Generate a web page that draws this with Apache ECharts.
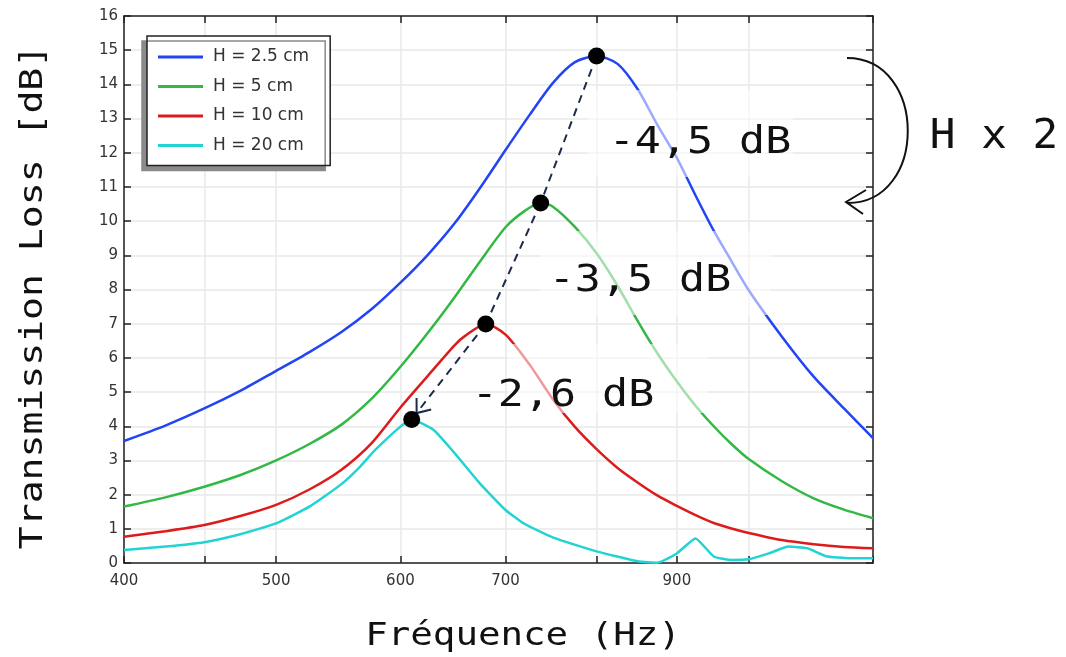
<!DOCTYPE html>
<html>
<head>
<meta charset="utf-8">
<title>Transmission Loss</title>
<script src="https://cdn.jsdelivr.net/npm/echarts@6/dist/echarts.min.js"></script>
<style>
  html, body { margin: 0; padding: 0; background: #fff; }
  #chart { width: 1066px; height: 657px; }
</style>
</head>
<body>
<div id="chart"></div>
<script>
// frequences (Hz) et pertes (dB)
const freqH25 = [400, 425, 450, 475, 500, 525, 550, 575, 600, 625, 650, 675, 700, 725, 750, 775, 800, 825, 850, 875, 900, 925, 950, 975, 1000, 1050, 1100, 1150, 1200]
const tlH25 = [3.57, 4.02, 4.52, 5.05, 5.62, 6.17, 6.75, 7.42, 8.2, 9.03, 9.95, 11.0, 12.08, 13.1, 14.03, 14.65, 14.83, 14.6, 13.85, 12.8, 11.85, 10.75, 9.72, 8.83, 7.98, 6.62, 5.45, 4.52, 3.65]

const freqH5 = [400, 425, 450, 475, 500, 525, 550, 575, 600, 625, 650, 675, 700, 720, 737, 750, 775, 800, 825, 850, 875, 900, 925, 950, 975, 1000, 1050, 1100, 1150, 1200]
const tlH5 = [1.65, 1.92, 2.23, 2.58, 3.0, 3.48, 4.04, 4.8, 5.74, 6.75, 7.79, 8.85, 9.82, 10.3, 10.53, 10.43, 9.83, 9.06, 8.11, 7.07, 6.12, 5.31, 4.6, 4.0, 3.48, 3.04, 2.39, 1.89, 1.56, 1.31]

const freqH10 = [400, 425, 450, 475, 500, 525, 550, 575, 600, 625, 650, 660, 680, 700, 725, 750, 775, 800, 825, 850, 875, 900, 925, 950, 975, 1000, 1050, 1100, 1150, 1200]
const tlH10 = [0.77, 0.93, 1.11, 1.38, 1.7, 2.15, 2.72, 3.5, 4.55, 5.49, 6.38, 6.65, 6.99, 6.68, 5.81, 4.8, 3.98, 3.33, 2.78, 2.35, 1.97, 1.67, 1.4, 1.17, 1.01, 0.88, 0.67, 0.55, 0.47, 0.43]

const freqH20 = [400, 425, 450, 475, 500, 525, 550, 565, 578, 600, 610, 630, 650, 675, 700, 720, 750, 800, 850, 875, 900, 925, 950, 975, 1000, 1030, 1060, 1090, 1120, 1160, 1200]
const tlH20 = [0.38, 0.48, 0.61, 0.85, 1.16, 1.65, 2.3, 2.8, 3.3, 3.99, 4.2, 3.89, 3.2, 2.3, 1.55, 1.14, 0.75, 0.34, 0.05, 0.01, 0.28, 0.72, 0.19, 0.09, 0.11, 0.28, 0.48, 0.43, 0.2, 0.14, 0.14]

// maxima relies par la fleche
const peakFreq = [800, 737, 680, 610]
const peakTL = [14.83, 10.53, 6.99, 4.2]

const seriesNames = ['H = 2.5 cm', 'H = 5 cm', 'H = 10 cm', 'H = 20 cm']
const seriesColors = ['#2244f5', '#33b845', '#dc1c1c', '#22d3d3']
const tickFreqs = [400, 450, 500, 600, 700, 800, 900, 1000, 1200]
const labelFreqs = [400, 500, 600, 700, 900]
const deltaLabels = ['-4,5 dB', '-3,5 dB', '-2,6 dB']

const lg = f => Math.log10(f)
const toPoints = (fs, vs) => fs.map((f, i) => [lg(f), vs[i]])

const chart = echarts.init(document.getElementById('chart'))

const mono = "'DejaVu Sans Mono', monospace"
const sans = "'DejaVu Sans', sans-serif"

function frameAxis (pos, extra) {
  return Object.assign({
    position: pos,
    axisLine: { show: true, onZero: false, lineStyle: { color: '#222', width: 1.5 } },
    axisTick: { show: true, inside: true, length: 7, lineStyle: { color: '#222', width: 1.5 } },
    axisLabel: { show: false },
    splitLine: { show: false }
  }, extra)
}

const lineSeries = [
  [freqH25, tlH25], [freqH5, tlH5], [freqH10, tlH10], [freqH20, tlH20]
].map(([fs, vs], k) => ({
  name: seriesNames[k],
  type: 'line',
  data: toPoints(fs, vs),
  symbol: 'none',
  smooth: k === 3 ? 0.15 : 0.25,
  z: 3,
  lineStyle: { color: seriesColors[k], width: 2.5 },
  itemStyle: { color: seriesColors[k] }
}))

const option = {
  animation: false,
  color: seriesColors,
  grid: { left: 124, right: 193, top: 16, bottom: 94 },
  legend: {
    orient: 'vertical',
    left: 147,
    top: 36,
    data: seriesNames,
    icon: 'rect',
    itemWidth: 45,
    itemHeight: 3,
    itemGap: 11.5,
    padding: [12, 21, 11, 11],
    backgroundColor: '#fff',
    borderColor: '#222',
    borderWidth: 1.5,
    borderRadius: 0,
    shadowColor: '#8a8a8a',
    shadowBlur: 0,
    shadowOffsetX: -5,
    shadowOffsetY: 5,
    textStyle: { fontFamily: sans, fontSize: 17, color: '#333', lineHeight: 18, padding: [0, 0, 0, 5] }
  },
  xAxis: [
    {
      type: 'value',
      min: lg(400),
      max: lg(1200),
      position: 'bottom',
      axisLine: { show: true, onZero: false, lineStyle: { color: '#222', width: 1.5 } },
      axisTick: {
        show: true, inside: true, length: 7,
        customValues: tickFreqs.map(lg),
        lineStyle: { color: '#222', width: 1.5 }
      },
      axisLabel: {
        customValues: labelFreqs.map(lg),
        formatter: v => String(Math.round(Math.pow(10, v))),
        fontFamily: sans, fontSize: 15, color: '#333', margin: 11
      },
      splitLine: { show: true, lineStyle: { color: '#e8e8e8', width: 1.5 } }
    },
    frameAxis('top', {
      type: 'value', min: lg(400), max: lg(1200),
      axisTick: { show: true, inside: true, length: 7, customValues: tickFreqs.map(lg), lineStyle: { color: '#222', width: 1.5 } }
    })
  ],
  yAxis: [
    {
      type: 'value',
      min: 0,
      max: 16,
      interval: 1,
      position: 'left',
      axisLine: { show: true, onZero: false, lineStyle: { color: '#222', width: 1.5 } },
      axisTick: { show: true, inside: true, length: 7, lineStyle: { color: '#222', width: 1.5 } },
      axisLabel: { fontFamily: sans, fontSize: 15, color: '#333', margin: 6 },
      splitLine: { show: true, lineStyle: { color: '#e8e8e8', width: 1.5 } }
    },
    frameAxis('right', { type: 'value', min: 0, max: 16, interval: 1 })
  ],
  series: lineSeries.concat([
    {
      name: 'fleche',
      type: 'custom',
      z: 4,
      silent: true,
      data: toPoints(peakFreq, peakTL),
      renderItem: function (params, api) {
        const i = params.dataIndex
        if (i === 0) return null
        const a = api.coord([lg(peakFreq[i - 1]), peakTL[i - 1]])
        const b = api.coord([api.value(0), api.value(1)])
        const style = { stroke: '#1c2b4a', lineWidth: 2, lineDash: [8, 6], fill: null }
        if (i < peakFreq.length - 1) {
          return { type: 'line', shape: { x1: a[0], y1: a[1], x2: b[0], y2: b[1] }, style: style }
        }
        const dx = b[0] - a[0]
        const dy = b[1] - a[1]
        const len = Math.sqrt(dx * dx + dy * dy)
        const ux = dx / len
        const uy = dy / len
        const tip = [b[0] - ux * 8, b[1] - uy * 8]
        const ang = 38 * Math.PI / 180
        const arm = 15
        const rot = (t) => [
          tip[0] - arm * (ux * Math.cos(t) - uy * Math.sin(t)),
          tip[1] - arm * (ux * Math.sin(t) + uy * Math.cos(t))
        ]
        return {
          type: 'group',
          children: [
            { type: 'line', shape: { x1: a[0], y1: a[1], x2: tip[0], y2: tip[1] }, style: style },
            { type: 'polyline', shape: { points: [rot(ang), tip, rot(-ang)] }, style: { stroke: '#1c2b4a', lineWidth: 2, fill: null } }
          ]
        }
      }
    },
    {
      name: 'maxima',
      type: 'scatter',
      z: 5,
      silent: true,
      data: toPoints(peakFreq, peakTL),
      symbol: 'circle',
      symbolSize: 17,
      itemStyle: { color: '#000', opacity: 1 }
    }
  ]),
  graphic: [
    // cadres semi-transparents derriere les annotations
    { type: 'rect', z: 10, silent: true, shape: { x: 588, y: 90, width: 205, height: 87 }, style: { fill: 'rgba(255,255,255,0.55)' } },
    { type: 'rect', z: 10, silent: true, shape: { x: 540, y: 231, width: 230, height: 84 }, style: { fill: 'rgba(255,255,255,0.55)' } },
    { type: 'rect', z: 10, silent: true, shape: { x: 508, y: 344, width: 200, height: 69 }, style: { fill: 'rgba(255,255,255,0.55)' } },
    { type: 'text', z: 20, x: 700, y: 143, scaleX: 1.17, style: { text: deltaLabels[0], font: '37px ' + mono, fill: '#111', align: 'center', verticalAlign: 'middle' } },
    { type: 'text', z: 20, x: 640, y: 281, scaleX: 1.17, style: { text: deltaLabels[1], font: '37px ' + mono, fill: '#111', align: 'center', verticalAlign: 'middle' } },
    { type: 'text', z: 20, x: 563, y: 396, scaleX: 1.17, style: { text: deltaLabels[2], font: '37px ' + mono, fill: '#111', align: 'center', verticalAlign: 'middle' } },
    { type: 'text', z: 20, x: 994, y: 137, scaleX: 1.04, style: { text: 'H x 2', font: '41px ' + mono, fill: '#111', align: 'center', verticalAlign: 'middle' } },
    {
      type: 'bezierCurve', z: 20, silent: true,
      shape: { x1: 847, y1: 58, cpx1: 928, cpy1: 58, cpx2: 928, cpy2: 204, x2: 847, y2: 203 },
      style: { stroke: '#111', lineWidth: 2, fill: null }
    },
    { type: 'polyline', z: 20, silent: true, shape: { points: [[866, 190], [846, 202], [863, 214]] }, style: { stroke: '#111', lineWidth: 2, fill: null } },
    // titres des axes
    { type: 'text', z: 20, x: 523, y: 637, scaleX: 1.17, style: { text: 'Fréquence (Hz)', font: '32px ' + mono, fill: '#111', align: 'center', verticalAlign: 'middle' } },
    { type: 'text', z: 20, x: 34, y: 297, rotation: Math.PI / 2, scaleX: 1.19, style: { text: 'Transmission Loss [dB]', font: '32px ' + mono, fill: '#111', align: 'center', verticalAlign: 'middle' } }
  ]
}

chart.setOption(option)
</script>
</body>
</html>
